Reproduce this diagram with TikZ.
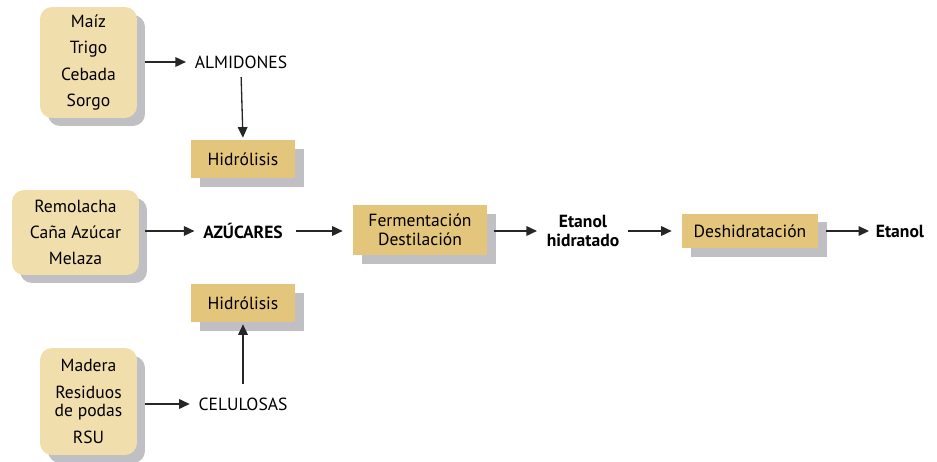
\documentclass[tikz,border=0pt]{standalone}
\usepackage{fontspec}
\setmainfont{PT Sans}
\usepackage{tikz}
\usetikzlibrary{arrows.meta,positioning,shadows}
\definecolor{rawfill}{HTML}{F0DEAD}
\definecolor{stepfill}{HTML}{E3C57C}
\definecolor{shadowgray}{HTML}{BFBFC4}
\begin{document}
\begin{tikzpicture}[
    x = 0.02cm, y = -0.02cm,
    font = \fontsize{10}{10.5}\selectfont,
    rawbox/.style={
        rectangle, % shape
        rounded corners = 0.24cm,
        fill = rawfill, % the filling
        general shadow = {fill = shadowgray, shadow xshift = 0.16cm, shadow yshift = -0.16cm},
        align = center,
        inner sep = 0pt
      },
    stepbox/.style={
        rectangle,
        fill = stepfill,
        general shadow = {fill = shadowgray, shadow xshift = 0.18cm, shadow yshift = -0.18cm},
        align = center,
        inner sep = 0pt
      },
    product/.style={align = center, inner sep = 2pt},
    flow/.style={
        -{Triangle[length = 6pt, width = 5.5pt]},
        line width = 0.75pt,
        draw = black!85
      }]
  \useasboundingbox (0,0) rectangle (937,462);
  % raw materials
  \node [rawbox, minimum width = 1.94cm, minimum height = 2.22cm] (grains) at (88.5,62.5)
    {Maíz\\[4.5pt] Trigo\\[4.5pt] Cebada\\[4.5pt] Sorgo};
  \node [rawbox, minimum width = 2.54cm, minimum height = 1.70cm] (sugars) at (75.5,232.5)
    {Remolacha\\[4.5pt] Caña Azúcar\\[4.5pt] Melaza};
  \node [rawbox, minimum width = 1.94cm, minimum height = 2.14cm] (woods) at (88.5,401.5)
    {Madera\\[4.5pt] Residuos\\ de podas\\[4.5pt] RSU};
  % intermediate products
  \node [product] (almidones) at (241,62) {ALMIDONES};
  \node [product] (azucares) at (243,231) {\bfseries AZÚCARES};
  \node [product] (celulosas) at (243,404) {CELULOSAS};
  % process steps
  \node [stepbox, minimum width = 2.08cm, minimum height = 0.76cm] (hidrotop) at (243,159) {Hidrólisis};
  \node [stepbox, minimum width = 2.08cm, minimum height = 0.76cm] (hidrobot) at (243,303) {Hidrólisis};
  \node [stepbox, minimum width = 2.68cm, minimum height = 1.00cm] (ferment) at (420,230)
    {Fermentación\\ Destilación};
  \node [product, font = \fontsize{10}{10.5}\selectfont\bfseries] (hidratado) at (583,231)
    {Etanol\\ hidratado};
  \node [stepbox, minimum width = 2.72cm, minimum height = 0.70cm] (deshidra) at (750,231)
    {Deshidratación};
  \node [product, font = \fontsize{10}{10.5}\selectfont\bfseries] (etanol) at (900,231) {Etanol};
  % connectors
  \draw [flow, shorten <= 0.16cm, shorten >= 0.1cm] (grains.east |- almidones) -- (almidones.west);
  \draw [flow, shorten <= 0.12cm, shorten >= 0.1cm] (sugars.east |- azucares) -- (azucares.west);
  \draw [flow, shorten <= 0.16cm, shorten >= 0.1cm] (woods.east |- celulosas) -- (celulosas.west);
  \draw [flow, shorten <= 0.1cm, shorten >= 0.04cm] (almidones.south) -- (hidrotop.north);
  \draw [flow, shorten <= 0.2cm, shorten >= 0.04cm] (celulosas.north) -- (hidrobot.south);
  \draw [flow, shorten <= 0.18cm, shorten >= 0.2cm] (azucares.east) -- (ferment.west |- azucares);
  \draw [flow, shorten <= 0.14cm, shorten >= 0.12cm] (ferment.east |- hidratado) -- (hidratado.west);
  \draw [flow, shorten <= 0.1cm, shorten >= 0.2cm] (hidratado.east) -- (deshidra.west);
  \draw [flow, shorten <= 0.16cm, shorten >= 0.06cm] (deshidra.east) -- (etanol.west);
\end{tikzpicture}
\end{document}
